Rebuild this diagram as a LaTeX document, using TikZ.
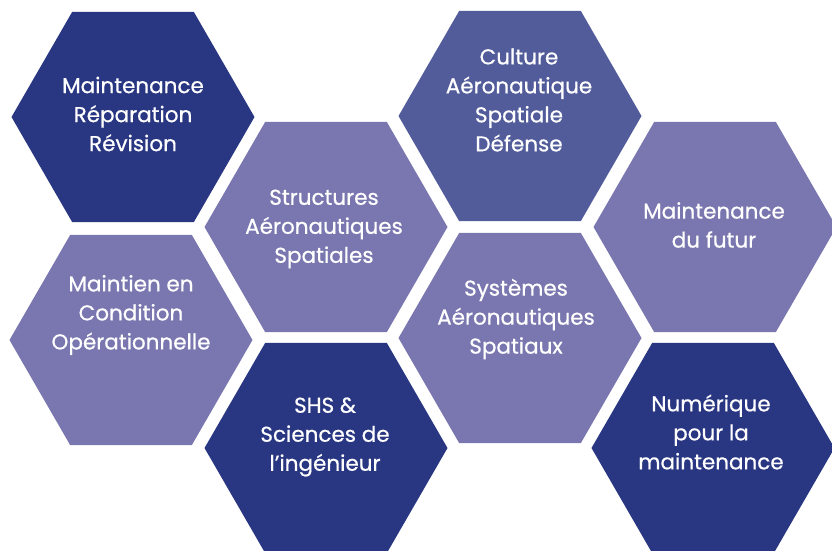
\documentclass[tikz,border=0pt]{standalone}
\usepackage{fontspec}
\setmainfont{Poppins}[FakeBold=0.6]
\usetikzlibrary{shapes.geometric}
\definecolor{navy}{RGB}{41,54,130}
\definecolor{slate}{RGB}{82,92,155}
\definecolor{lilac}{RGB}{122,119,176}

\begin{document}
\begin{tikzpicture}[x=1pt, y=-1pt, h/.style={regular polygon, regular polygon sides=6, minimum size=243pt, inner sep=0pt}, d/.style={fill=navy}, m/.style={fill=slate}, l/.style={fill=lilac}, t/.style={text=white, align=center, font=\fontsize{21.5}{29}\selectfont}]
		\useasboundingbox (0,0) rectangle (832,550);
		\clip (0,0) rectangle (832,550);

		\node[h, d] (MRR) at (133,117) {};
		\node[h, l] (MCO) at (131,340) {};
		\node[h, l] (STR) at (326,227) {};
		\node[h, d] (SHS) at (326,448) {};
		\node[h, m] (CUL) at (520,116) {};
		\node[h, l] (SYS) at (520,338) {};
		\node[h, l] (FUT) at (715,227) {};
		\node[h, d] (NUM) at (713,448) {};

		\node[t] (MRR_label) at (133,114) {Maintenance\\Réparation\\Révision};
		\node[t] (MCO_label) at (131,315) {Maintien en\\Condition\\Opérationnelle};
		\node[t] (STR_label) at (324,229) {Structures\\Aéronautiques\\Spatiales};
		\node[t] (SHS_label) at (325,437) {SHS \&\\Sciences de\\l’ingénieur};
		\node[t] (CUL_label) at (519,100) {Culture\\Aéronautique\\Spatiale\\Défense};
		\node[t] (SYS_label) at (516,319) {Systèmes\\Aéronautiques\\Spatiaux};
		\node[t] (FUT_label) at (714,225) {Maintenance\\du futur};
		\node[t] (NUM_label) at (711,432) {Numérique\\pour la\\maintenance};
	\end{tikzpicture}
\end{document}
